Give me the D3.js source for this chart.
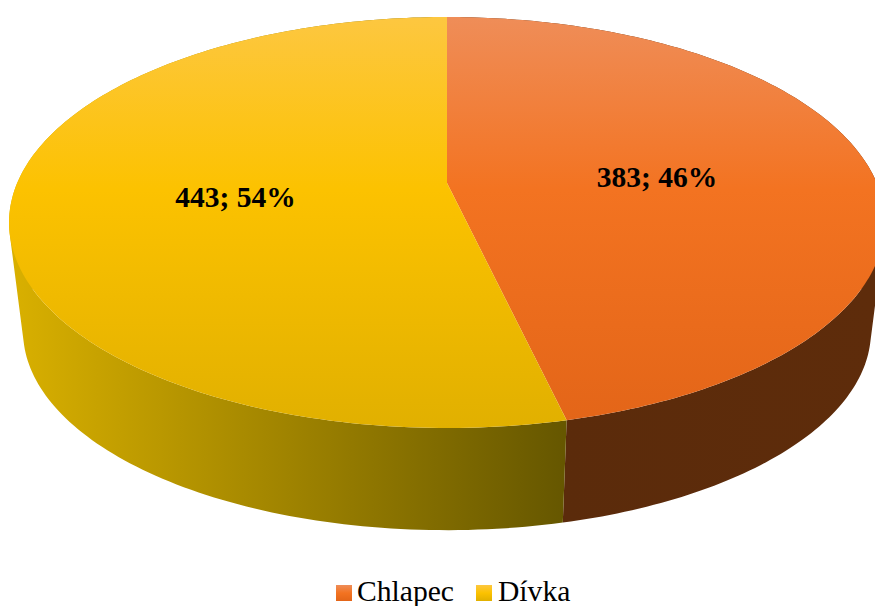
<!DOCTYPE html>
<html lang="en">
<head>
    <meta charset="UTF-8">
    <title>Chlapec / Dívka</title>
    <script src="https://d3js.org/d3.v7.min.js"></script>
    <style>
        html, body { margin: 0; padding: 0; background: #fff; }
        svg { display: block; }
        text { font-family: "Liberation Serif", serif; fill: #000; }
        .value { font-size: 29.5px; font-weight: bold; text-anchor: middle; }
        .legend { font-size: 29.6px; }
    </style>
</head>
<body>
    <svg width="875" height="606"></svg>
    <script>
        const categories = ['Chlapec', 'Dívka'];
        const values = [383, 443];
        const percents = [46, 54];

        const topColors = [['#ef8d58', '#f37321', '#e36518'], ['#fdc740', '#fcc200', '#e1b000']];
        const sideColors = [['#5b2b0b', '#5e2c0b'], ['#d9b000', '#665700']];
        const sideRange = [[563, 875], [12, 563]];
        const labelPos = [[657, 187], [235.5, 207]];

        const svg = d3.select('svg');
        const defs = svg.append('defs');

        // perspective view of the disc, k is how strong the foreshortening is
        const k = 0.1922;
        const cx = 447, topY = 183, bottomY = 293, shrink = 0.968;
        const R = 429.8, S = 197.9;

        function project(angle, base, f) {
            const u = Math.sin(angle), v = -Math.cos(angle);
            const d = 1 - k * v;
            return [cx + f * R * u / d, base + f * S * v / d];
        }

        function rim(a0, a1, base, f) {
            return d3.range(0, 181).map(i => project(a0 + (a1 - a0) * i / 180, base, f));
        }

        const arcs = d3.pie().sort(null)(values);
        const line = d3.line();

        categories.forEach((c, i) => {
            const topGrad = defs.append('linearGradient')
                .attr('id', 'top' + i)
                .attr('gradientUnits', 'userSpaceOnUse')
                .attr('x1', 0).attr('x2', 0).attr('y1', 17).attr('y2', 428);
            topColors[i].forEach((col, j) => {
                topGrad.append('stop').attr('offset', [0, 0.42, 1][j]).attr('stop-color', col);
            });

            const sideGrad = defs.append('linearGradient')
                .attr('id', 'side' + i)
                .attr('gradientUnits', 'userSpaceOnUse')
                .attr('x1', sideRange[i][0]).attr('x2', sideRange[i][1]).attr('y1', 0).attr('y2', 0);
            sideColors[i].forEach((col, j) => {
                sideGrad.append('stop').attr('offset', j).attr('stop-color', col);
            });

            const legendGrad = defs.append('linearGradient')
                .attr('id', 'key' + i)
                .attr('x1', 0).attr('x2', 0).attr('y1', 0).attr('y2', 1);
            topColors[i].forEach((col, j) => {
                legendGrad.append('stop').attr('offset', j / 2).attr('stop-color', col);
            });
        });

        // walls first, the top covers whatever is behind it
        // built from small quads so the outer silhouette is filled too
        arcs.forEach((a, i) => {
            const upper = rim(a.startAngle, a.endAngle, topY, 1);
            const lower = rim(a.startAngle, a.endAngle, bottomY, shrink);
            let d = '';
            d3.range(0, 180).forEach(j => {
                const quad = [upper[j], upper[j + 1], lower[j + 1], lower[j]];
                if (d3.polygonArea(quad) < 0) quad.reverse();
                d += line(quad) + 'Z';
            });
            svg.append('path')
                .attr('d', d)
                .attr('fill', `url(#side${i})`);
        });

        arcs.forEach((a, i) => {
            const pts = [[cx, topY]].concat(rim(a.startAngle, a.endAngle, topY, 1));
            svg.append('path')
                .attr('d', line(pts) + 'Z')
                .attr('fill', `url(#top${i})`);
        });

        arcs.forEach((a, i) => {
            svg.append('text')
                .attr('class', 'value')
                .attr('x', labelPos[i][0])
                .attr('y', labelPos[i][1])
                .text(`${values[i]}; ${percents[i]}%`);
        });

        const legendX = [336, 476];
        categories.forEach((c, i) => {
            svg.append('rect')
                .attr('x', legendX[i]).attr('y', 585)
                .attr('width', 16).attr('height', 16)
                .attr('fill', `url(#key${i})`);
            svg.append('text')
                .attr('class', 'legend')
                .attr('x', legendX[i] + (i ? 22 : 21))
                .attr('y', 601)
                .text(c);
        });
    </script>
</body>
</html>
